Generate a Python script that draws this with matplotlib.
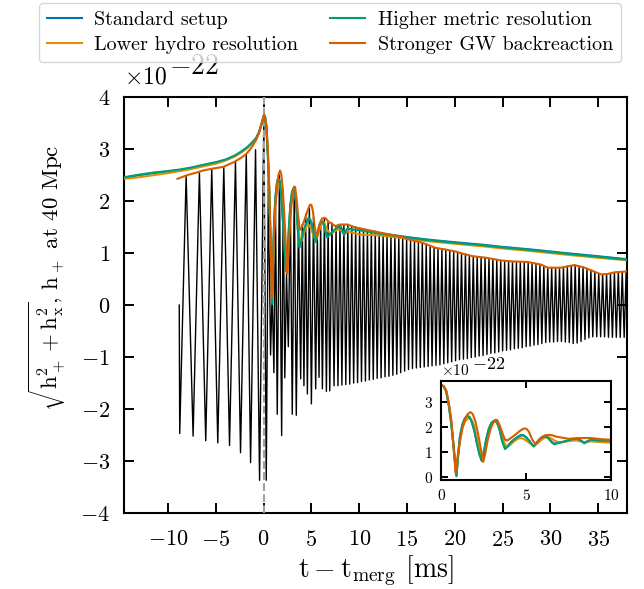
import numpy as np
import matplotlib
matplotlib.use("Agg")
import matplotlib.pyplot as plt

plt.rcParams.update({
    "font.family": "serif",
    "font.serif": ["cmr10"],
    "mathtext.fontset": "cm",
    "axes.formatter.use_mathtext": True,
    "axes.unicode_minus": True,
})

# all amplitudes in units of 1e-22

# ---------------- amplitude envelopes sqrt(h+^2 + hx^2) ----------------
t_pre = [-14.6, -13.0, -11.5, -10.0, -8.7, -7.5, -6.3, -5.0, -4.0, -3.0, -2.3, -1.7,
         -1.2, -0.8, -0.5, -0.3, -0.1, 0.05]
amp_std_pre = [2.45, 2.50, 2.54, 2.57, 2.60, 2.64, 2.69, 2.74, 2.79, 2.87, 2.95, 3.03,
               3.12, 3.20, 3.31, 3.43, 3.56, 3.66]
amp_low_pre = [2.43, 2.46, 2.50, 2.54, 2.58, 2.62, 2.67, 2.72, 2.78, 2.86, 2.94, 3.02,
               3.11, 3.19, 3.30, 3.42, 3.55, 3.65]
amp_met_pre = [2.46, 2.51, 2.55, 2.58, 2.61, 2.65, 2.70, 2.75, 2.80, 2.88, 2.96, 3.04,
               3.13, 3.21, 3.32, 3.43, 3.56, 3.66]

t_post = [0.15, 0.3, 0.45, 0.6, 0.75, 0.9, 1.0, 1.1, 1.25, 1.4, 1.5, 1.58, 1.68, 1.8,
          1.95, 2.1, 2.25, 2.38, 2.5, 2.65, 2.8, 2.95, 3.1, 3.2, 3.3, 3.45, 3.6, 3.76,
          3.9, 4.1, 4.3, 4.5, 4.7, 4.85, 5.0, 5.2, 5.35, 5.45, 5.6, 5.8, 6.0, 6.15,
          6.3, 6.5, 6.65, 6.9, 7.2, 7.6, 8.0, 8.2, 8.42, 8.6, 8.81, 9.3, 10.0, 12.3,
          15.0, 17.2, 20.0, 23.0, 25.0, 28.0, 31.1, 35.0, 38.2]
amp_met_post = [3.62, 3.40, 2.85, 2.10, 1.05, 0.02, 0.90, 1.60, 2.10, 2.35, 2.42, 2.43,
                2.38, 2.20, 1.85, 1.35, 0.90, 0.64, 0.95, 1.50, 1.92, 2.15, 2.24, 2.24,
                2.15, 1.85, 1.40, 1.11, 1.20, 1.38, 1.50, 1.60, 1.68, 1.66, 1.58, 1.42,
                1.27, 1.21, 1.35, 1.52, 1.60, 1.61, 1.55, 1.38, 1.30, 1.35, 1.41, 1.48,
                1.54, 1.45, 1.34, 1.42, 1.48, 1.45, 1.44, 1.37, 1.30, 1.25, 1.20, 1.15,
                1.11, 1.06, 1.00, 0.93, 0.87]
amp_std_post = [3.62, 3.41, 2.87, 2.12, 1.08, 0.05, 0.88, 1.58, 2.09, 2.34, 2.42, 2.42,
                2.38, 2.21, 1.86, 1.37, 0.92, 0.66, 0.94, 1.48, 1.90, 2.14, 2.24, 2.24,
                2.16, 1.87, 1.42, 1.13, 1.21, 1.37, 1.49, 1.58, 1.66, 1.65, 1.58, 1.43,
                1.29, 1.23, 1.35, 1.50, 1.59, 1.60, 1.55, 1.40, 1.33, 1.36, 1.40, 1.47,
                1.52, 1.46, 1.36, 1.42, 1.47, 1.45, 1.45, 1.38, 1.31, 1.26, 1.21, 1.16,
                1.12, 1.07, 1.01, 0.94, 0.88]

t_low_post = [0.15, 0.3, 0.45, 0.6, 0.75, 0.88, 1.0, 1.1, 1.25, 1.4, 1.55, 1.68, 1.8,
              1.95, 2.1, 2.25, 2.43, 2.55, 2.7, 2.85, 3.0, 3.15, 3.25, 3.4, 3.55, 3.75,
              3.9, 4.1, 4.3, 4.5, 4.65, 4.85, 5.1, 5.35, 5.5, 5.7, 5.9, 6.1, 6.3, 6.5,
              6.75, 7.0, 7.3, 7.7, 8.0, 8.3, 8.5, 8.8, 9.2, 10.0, 12.3, 15.0, 17.2,
              20.0, 23.0, 25.0, 28.0, 31.1, 35.0, 38.2]
amp_low_post = [3.62, 3.44, 2.95, 2.20, 1.15, 0.06, 0.80, 1.40, 1.95, 2.20, 2.32, 2.35,
                2.28, 2.00, 1.55, 1.05, 0.62, 0.95, 1.50, 1.90, 2.12, 2.22, 2.20, 2.00,
                1.70, 1.30, 1.20, 1.30, 1.42, 1.52, 1.55, 1.52, 1.40, 1.28, 1.25, 1.35,
                1.48, 1.57, 1.60, 1.52, 1.42, 1.38, 1.40, 1.45, 1.45, 1.40, 1.38, 1.42,
                1.40, 1.36, 1.34, 1.28, 1.23, 1.18, 1.13, 1.09, 1.04, 0.98, 0.91, 0.86]

t_gw = [-9.0, -8.0, -7.0, -6.3, -5.5, -4.2, -3.0, -2.3, -1.8, -1.3, -0.8, -0.5, -0.3,
        -0.1, 0.05, 0.15, 0.3, 0.45, 0.6, 0.72, 0.85, 0.95, 1.1, 1.25, 1.4, 1.55, 1.72,
        1.85, 2.0, 2.15, 2.3, 2.48, 2.6, 2.75, 2.9, 3.05, 3.2, 3.3, 3.45, 3.6, 3.75,
        3.86, 4.0, 4.3, 4.6, 4.85, 5.0, 5.15, 5.35, 5.54, 5.7, 5.9, 6.1, 6.34, 6.55,
        6.8, 7.0, 7.5, 8.0, 8.8, 9.5, 10.5, 12.3, 14.0, 15.0, 16.6, 18.0, 19.0, 20.1,
        21.0, 21.9, 23.3, 24.8, 26.0, 27.6, 29.0, 29.7, 31.1, 32.5, 33.6, 34.5, 35.3,
        36.0, 36.7, 38.2]
amp_gw = [2.43, 2.50, 2.55, 2.59, 2.62, 2.66, 2.76, 2.84, 2.91, 3.02, 3.17, 3.30, 3.43,
          3.56, 3.66, 3.63, 3.45, 2.95, 2.25, 1.30, 0.15, 0.70, 1.40, 1.95, 2.30, 2.50,
          2.59, 2.52, 2.25, 1.80, 1.25, 0.60, 0.95, 1.50, 1.90, 2.15, 2.28, 2.27, 2.05,
          1.75, 1.50, 1.45, 1.50, 1.65, 1.82, 1.93, 1.93, 1.82, 1.50, 1.31, 1.42, 1.58,
          1.66, 1.68, 1.66, 1.60, 1.58, 1.52, 1.55, 1.55, 1.50, 1.46, 1.39, 1.33, 1.27,
          1.20, 1.10, 1.07, 1.03, 0.98, 0.94, 0.91, 0.86, 0.84, 0.83, 0.78, 0.72, 0.72,
          0.77, 0.72, 0.65, 0.59, 0.60, 0.63, 0.65]

# ---------------- h+ extrema (stronger GW backreaction run) ----------------
t_hp_early = [-8.82, -8.77, -8.10, -7.37, -6.71, -6.05, -5.42, -4.79, -4.16, -3.56,
              -2.94, -2.41, -1.81, -1.36, -0.84, -0.42, 0.03, 0.28, 0.50, 0.73, 0.90,
              1.08, 1.25, 1.43, 1.66, 1.89, 2.05, 2.22, 2.40, 2.59, 2.80, 3.00, 3.21,
              3.42, 3.65, 3.88, 4.05, 4.22, 4.40, 4.58, 4.79, 5.00, 5.22, 5.45, 5.62,
              5.80, 5.97, 6.15, 6.36, 6.57, 6.75, 6.92, 7.15, 7.37]
hp_early = [0.00, -2.47, 2.49, -2.52, 2.55, -2.61, 2.62, -2.65, 2.66, -2.70,
            2.77, -2.84, 2.90, -3.03, 2.99, -3.37, 3.61, -3.37, 2.40, -0.96, 0.25,
            -1.30, 1.85, -2.10, 2.50, -2.51, 2.20, -1.40, 0.60, -0.80, 1.95, -2.10, 2.28,
            -2.12, 1.65, -1.42, 1.55, -1.55, 1.75, -1.71, 1.88, -1.90, 1.70, -1.61, 1.35,
            -1.39, 1.55, -1.61, 1.66, -1.66, 1.60, -1.65, 1.58, -1.55]

t_peak_late = [7.58, 7.99, 8.40, 8.81, 9.22, 9.63, 10.04, 10.45, 10.86, 11.27, 11.68,
               12.09, 12.50, 12.91, 13.32, 13.73, 14.14, 14.55, 14.96, 15.37, 15.78,
               16.19, 16.60, 17.01, 17.42, 17.83, 18.24, 18.65, 19.06, 19.47, 19.88,
               20.29, 20.70, 21.11, 21.52, 21.93, 22.34, 22.75, 23.16, 23.57, 23.98,
               24.39, 24.80, 25.21, 25.62, 26.03, 26.44, 26.85, 27.26, 27.67, 28.08,
               28.49, 28.90, 29.31, 29.72, 30.13, 30.54, 30.95, 31.36, 31.77, 32.18,
               32.59, 33.00, 33.41, 33.82, 34.23, 34.64, 35.05, 35.46, 35.87, 36.28,
               36.69, 37.10, 37.51, 37.92]
hp_peak_late = [1.52, 1.55, 1.55, 1.55, 1.52, 1.50, 1.48, 1.46, 1.45, 1.43, 1.42,
                1.40, 1.38, 1.37, 1.35, 1.34, 1.32, 1.30, 1.27, 1.25, 1.24,
                1.22, 1.20, 1.17, 1.14, 1.11, 1.09, 1.08, 1.07, 1.05, 1.04,
                1.02, 1.00, 0.98, 0.96, 0.94, 0.93, 0.92, 0.91, 0.90, 0.89,
                0.87, 0.86, 0.85, 0.85, 0.84, 0.84, 0.84, 0.83, 0.83, 0.81,
                0.80, 0.78, 0.75, 0.72, 0.72, 0.72, 0.72, 0.73, 0.75, 0.76,
                0.77, 0.75, 0.73, 0.70, 0.67, 0.64, 0.61, 0.59, 0.60, 0.61,
                0.63, 0.64, 0.64, 0.65]
t_trough_late = [7.78, 8.19, 8.60, 9.01, 9.42, 9.83, 10.24, 10.65, 11.06, 11.47, 11.88,
                 12.29, 12.70, 13.11, 13.52, 13.93, 14.34, 14.75, 15.16, 15.57, 15.98,
                 16.39, 16.80, 17.21, 17.62, 18.03, 18.44, 18.85, 19.26, 19.67, 20.08,
                 20.49, 20.90, 21.31, 21.72, 22.13, 22.54, 22.95, 23.36, 23.77, 24.18,
                 24.59, 25.00, 25.41, 25.82, 26.23, 26.64, 27.05, 27.46, 27.87, 28.28,
                 28.69, 29.10, 29.51, 29.92, 30.33, 30.74, 31.15, 31.56, 31.97, 32.38,
                 32.79, 33.20, 33.61, 34.02, 34.43, 34.84, 35.25, 35.66, 36.07, 36.48,
                 36.89, 37.30, 37.71, 38.12]
hp_trough_late = [-1.55, -1.54, -1.53, -1.52, -1.50, -1.49, -1.47, -1.46, -1.44, -1.43, -1.41,
                  -1.40, -1.38, -1.37, -1.35, -1.33, -1.30, -1.27, -1.24, -1.22, -1.21,
                  -1.20, -1.19, -1.18, -1.17, -1.16, -1.15, -1.13, -1.11, -1.09, -1.07,
                  -1.05, -1.04, -1.03, -1.01, -1.00, -0.98, -0.97, -0.95, -0.93, -0.92,
                  -0.90, -0.88, -0.87, -0.86, -0.84, -0.83, -0.82, -0.80, -0.79, -0.77,
                  -0.76, -0.74, -0.72, -0.71, -0.71, -0.70, -0.70, -0.71, -0.72, -0.74,
                  -0.73, -0.70, -0.66, -0.63, -0.61, -0.61, -0.61, -0.61, -0.62, -0.62,
                  -0.62, -0.62, -0.62, -0.62]

labels = ["Standard setup", "Lower hydro resolution",
          "Higher metric resolution", "Stronger GW backreaction"]
colors = ["#0173b2", "#de8f05", "#029e73", "#d55e00"]
x_ticks = [-10, -5, 0, 5, 10, 15, 20, 25, 30, 35]
y_ticks = [-4, -3, -2, -1, 0, 1, 2, 3, 4]

# ---------------- assemble series ----------------
t_hp_late = np.column_stack([t_peak_late, t_trough_late]).ravel()
hp_late = np.column_stack([hp_peak_late, hp_trough_late]).ravel()
t_hp = np.concatenate([t_hp_early, t_hp_late])
hp = np.concatenate([hp_early, hp_late])

series = [
    (np.concatenate([t_pre, t_post]), np.concatenate([amp_std_pre, amp_std_post])),
    (np.concatenate([t_pre, t_low_post]), np.concatenate([amp_low_pre, amp_low_post])),
    (np.concatenate([t_pre, t_post]), np.concatenate([amp_met_pre, amp_met_post])),
    (np.asarray(t_gw), np.asarray(amp_gw)),
]


def add_exponent(axis, y, size_base, size_exp, raise_frac):
    t1 = axis.text(0.0, y, r"$\times\mathrm{10}$", transform=axis.transAxes,
                   fontsize=size_base, ha="left", va="bottom")
    axis.annotate(r"$-\mathrm{22}$", xy=(1.0, raise_frac), xycoords=t1,
                  xytext=(1.5, 0.0), textcoords="offset points",
                  fontsize=size_exp, ha="left", va="bottom")


fig = plt.figure(figsize=(6.44, 5.89), dpi=100)
ax = fig.add_axes([0.1925, 0.129, 0.781, 0.706])

ax.plot(t_hp, hp, color="black", lw=1.0, zorder=2)
ax.axvline(0.0, color="#a0a0a0", ls="--", lw=1.5, zorder=3)
for (tt, aa), lab, col in zip(series, labels, colors):
    ax.plot(tt, aa, color=col, lw=1.5, label=lab, zorder=4)

ax.set_xlim(-14.6, 38.0)
ax.set_ylim(-4, 4)
ax.set_xticks(x_ticks)
ax.set_yticks(y_ticks)
ax.tick_params(direction="in", top=True, right=True, length=7, width=1.4,
               labelsize=16)
ax.tick_params(axis="x", pad=12)
ax.tick_params(axis="y", pad=10)
for sp in ax.spines.values():
    sp.set_linewidth(1.5)
add_exponent(ax, 1.02, 17, 20, 0.42)
ax.set_xlabel(r"$\mathrm{t - t_{merg}}$ [ms]", fontsize=20, labelpad=3)
ax.set_ylabel(r"$\sqrt{\mathrm{h}_+^2 + \mathrm{h}_\mathrm{x}^2}$, $\mathrm{h}_+$ at 40 Mpc",
              fontsize=16.5)
ax.yaxis.set_label_coords(-0.112, 0.565)

handles, labs = ax.get_legend_handles_labels()
fig.legend(handles, labs, ncol=2, loc="upper center",
           bbox_to_anchor=(0.512, 0.995), fontsize=14.5,
           handlelength=1.75, handletextpad=0.6, borderaxespad=0.0,
           columnspacing=1.6, labelspacing=0.35)

# ---------------- inset ----------------
axin = fig.add_axes([0.685, 0.185, 0.264, 0.168])
for (tt, aa), col in zip(series, colors):
    axin.plot(tt, aa, color=col, lw=1.5)
axin.set_xlim(0, 10)
axin.set_ylim(-0.13, 3.83)
axin.set_xticks([0, 5, 10])
axin.set_yticks([0, 1, 2, 3])
axin.tick_params(direction="in", top=True, right=True, length=5, width=1.4,
                 labelsize=11, pad=6)
for sp in axin.spines.values():
    sp.set_linewidth(1.5)
add_exponent(axin, 1.03, 11, 13, 0.42)

fig.savefig("out.png", dpi=100)
